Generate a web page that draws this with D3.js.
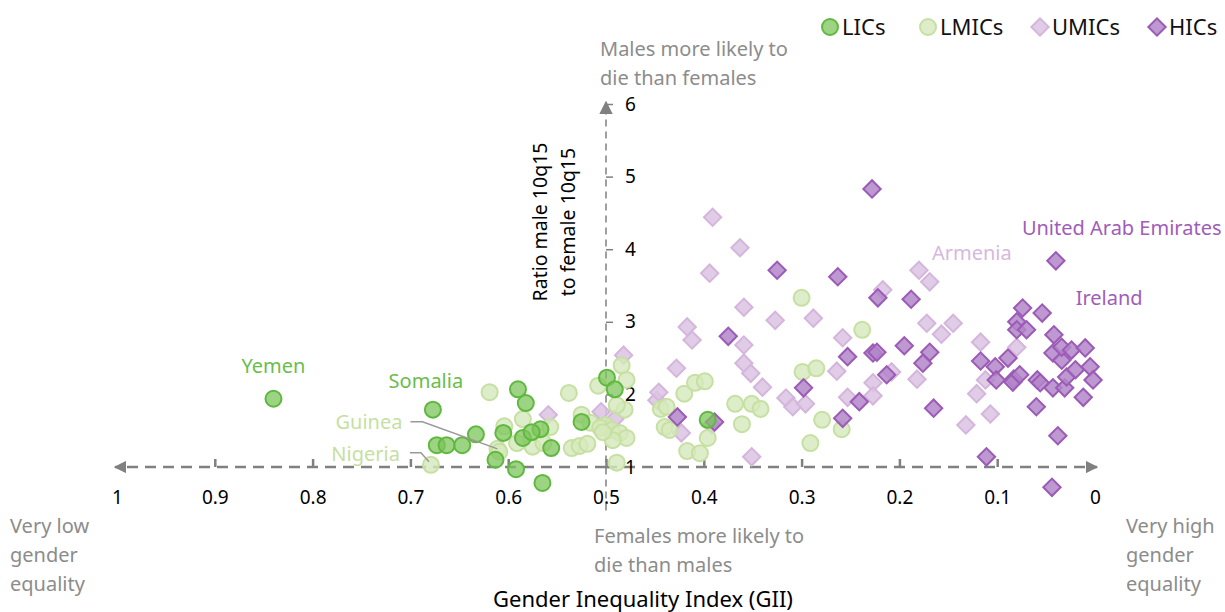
<!DOCTYPE html>
<html>
<head>
<meta charset="utf-8">
<script src="https://cdn.jsdelivr.net/npm/d3@7"></script>
<style>
  body { margin: 0; background: #fff; }
  text { font-family: "Noto Sans", sans-serif; }
</style>
</head>
<body>
<div id="chart"></div>
<script>
// [GII, ratio male 10q15 / female 10q15]
var lics = [
    [0.840, 1.94], [0.677, 1.79], [0.673, 1.30], [0.663, 1.30], [0.647, 1.30],
    [0.633, 1.45], [0.613, 1.10], [0.605, 1.47], [0.590, 2.07], [0.582, 1.88],
    [0.592, 0.97], [0.565, 0.78], [0.585, 1.40], [0.567, 1.52], [0.556, 1.26],
    [0.576, 1.48], [0.499, 2.23], [0.491, 2.07], [0.525, 1.62], [0.396, 1.65]
];
var lmics = [
    [0.679, 1.03], [0.611, 1.25], [0.619, 2.03], [0.604, 1.56], [0.585, 1.66],
    [0.591, 1.33], [0.575, 1.28], [0.564, 1.33], [0.557, 1.55], [0.609, 1.21],
    [0.538, 2.02], [0.535, 1.26], [0.527, 1.29], [0.519, 1.32], [0.525, 1.72],
    [0.516, 1.61], [0.508, 2.12], [0.484, 2.40], [0.479, 2.20], [0.489, 1.06],
    [0.501, 1.58], [0.494, 1.51], [0.486, 1.47], [0.479, 1.40], [0.493, 1.37],
    [0.481, 1.79], [0.489, 1.85], [0.506, 1.54], [0.503, 1.48],
    [0.300, 3.33], [0.238, 2.89], [0.299, 2.31], [0.285, 2.36], [0.420, 2.01],
    [0.409, 2.16], [0.399, 2.18], [0.444, 1.80], [0.438, 1.83], [0.440, 1.55],
    [0.435, 1.51], [0.396, 1.40], [0.417, 1.22], [0.404, 1.19], [0.368, 1.87],
    [0.351, 1.87], [0.342, 1.80], [0.361, 1.59], [0.279, 1.65], [0.291, 1.33],
    [0.259, 1.52]
];
var umics = [
    [0.482, 2.54], [0.559, 1.72], [0.505, 1.76], [0.491, 1.66], [0.448, 1.92],
    [0.446, 2.03], [0.391, 4.44], [0.363, 4.02], [0.394, 3.67], [0.359, 3.20],
    [0.327, 3.02], [0.288, 3.05], [0.417, 2.93], [0.412, 2.75], [0.359, 2.68],
    [0.258, 2.78], [0.428, 2.36], [0.359, 2.43], [0.352, 2.29], [0.264, 2.32],
    [0.340, 2.10], [0.316, 1.95], [0.309, 1.83], [0.296, 1.87], [0.253, 1.96],
    [0.423, 1.47], [0.392, 1.58], [0.351, 1.14], [0.227, 2.16], [0.227, 1.98],
    [0.180, 3.71], [0.169, 3.55], [0.217, 3.44], [0.172, 2.98], [0.157, 2.83],
    [0.145, 2.98], [0.117, 2.72], [0.080, 2.65], [0.208, 2.31], [0.182, 2.21],
    [0.112, 2.20], [0.121, 2.01], [0.107, 1.73], [0.132, 1.58]
];
var hics = [
    [0.228, 4.83], [0.325, 3.71], [0.263, 3.62], [0.222, 3.33], [0.375, 2.80],
    [0.253, 2.52], [0.227, 2.57], [0.223, 2.58], [0.298, 2.09], [0.241, 1.90],
    [0.258, 1.67], [0.427, 1.69], [0.389, 1.62], [0.188, 3.31], [0.195, 2.67],
    [0.169, 2.58], [0.176, 2.43], [0.213, 2.27], [0.165, 1.81], [0.117, 2.46],
    [0.102, 2.38], [0.101, 2.20], [0.089, 2.50], [0.083, 2.21], [0.080, 3.00],
    [0.074, 3.19], [0.054, 3.12], [0.080, 2.89], [0.070, 2.89], [0.042, 2.82],
    [0.043, 2.57], [0.034, 2.47], [0.034, 2.65], [0.024, 2.61], [0.010, 2.64],
    [0.059, 2.20], [0.056, 2.16], [0.043, 2.09], [0.031, 2.09], [0.029, 2.24],
    [0.020, 2.34], [0.005, 2.38], [0.002, 2.20], [0.012, 1.96], [0.060, 1.83],
    [0.038, 1.43], [0.044, 0.72], [0.111, 1.14], [0.040, 3.84], [0.084, 2.17],
    [0.077, 2.27]
];
var xTicks = [1, 0.9, 0.8, 0.7, 0.6, 0.5, 0.4, 0.3, 0.2, 0.1, 0];
var yTicks = [1, 2, 3, 4, 5, 6];
var legendNames = ["LICs", "LMICs", "UMICs", "HICs"];
// country labels: name, group, GII, ratio of the point
var labels = [
    ["Yemen", "LICs", 0.840, 1.94],
    ["Somalia", "LICs", 0.677, 1.79],
    ["Guinea", "LMICs", 0.611, 1.25],
    ["Nigeria", "LMICs", 0.679, 1.03],
    ["Armenia", "UMICs", 0.180, 3.71],
    ["United Arab Emirates", "HICs", 0.040, 3.84],
    ["Ireland", "HICs", 0.074, 3.19]
];

var width = 1225, height = 612;

var styles = {
    LICs:  {shape: "circle",  fill: "#7cc65a", stroke: "#5fb83f", op: 0.75, label: "#6abd4a"},
    LMICs: {shape: "circle",  fill: "#d6e9bb", stroke: "#c6e0a2", op: 0.8,  label: "#c6dfa0"},
    UMICs: {shape: "diamond", fill: "#dcc3e3", stroke: "#d4b6dc", op: 0.85, label: "#d7b8de"},
    HICs:  {shape: "diamond", fill: "#b386c9", stroke: "#9b5bb6", op: 0.85, label: "#a05cba"}
};

var svg = d3.select("#chart").append("svg")
    .attr("width", width)
    .attr("height", height);

var xScale = d3.scaleLinear().domain([1, 0]).range([117, 1095]);
var yScale = d3.scaleLinear().domain([1, 6]).range([467, 104]);

var grey = "#808080";

var defs = svg.append("defs");
defs.append("marker")
    .attr("id", "arrow")
    .attr("viewBox", "0 0 10 10")
    .attr("refX", 9).attr("refY", 5)
    .attr("markerWidth", 5).attr("markerHeight", 5)
    .attr("markerUnits", "strokeWidth")
    .attr("orient", "auto-start-reverse")
    .append("path")
    .attr("d", "M0,0L10,5L0,10z")
    .attr("fill", grey);
defs.append("marker")
    .attr("id", "arrowY")
    .attr("viewBox", "0 0 10 10")
    .attr("refX", 9).attr("refY", 5)
    .attr("markerWidth", 9).attr("markerHeight", 9)
    .attr("markerUnits", "strokeWidth")
    .attr("orient", "auto")
    .append("path")
    .attr("d", "M0,0L10,5L0,10z")
    .attr("fill", grey);

// x axis (dashed line with arrows, ticks pointing up)
var xAxis = d3.axisBottom(xScale)
    .tickValues(xTicks)
    .tickFormat(d => d3.format("~g")(d))
    .tickSize(-8)
    .tickPadding(24);

var gx = svg.append("g")
    .attr("transform", `translate(0,${yScale(1)})`)
    .call(xAxis);
gx.select(".domain").remove();
gx.selectAll(".tick line")
    .attr("stroke", grey).attr("stroke-width", 2.5)
    .filter(d => d === 1 || d === 0).remove();
gx.selectAll(".tick text")
    .attr("fill", "#000").attr("font-size", 19)
    .style("font-family", "'Noto Sans', sans-serif");

svg.append("line")
    .attr("x1", xScale(0.5)).attr("x2", xScale(1) - 2)
    .attr("y1", yScale(1)).attr("y2", yScale(1))
    .attr("stroke", grey).attr("stroke-width", 2.5)
    .attr("stroke-dasharray", "11,7")
    .attr("marker-end", "url(#arrow)");
svg.append("line")
    .attr("x1", xScale(0.5)).attr("x2", xScale(0) + 2)
    .attr("y1", yScale(1)).attr("y2", yScale(1))
    .attr("stroke", grey).attr("stroke-width", 2.5)
    .attr("stroke-dasharray", "11,7")
    .attr("marker-end", "url(#arrow)");

// y axis at GII = 0.5
var yAxis = d3.axisRight(yScale)
    .tickValues(yTicks)
    .tickFormat(d3.format("d"))
    .tickSize(7)
    .tickPadding(12);
var gy = svg.append("g")
    .attr("transform", `translate(${xScale(0.5)},0)`)
    .call(yAxis);
gy.select(".domain").remove();
gy.selectAll(".tick line").attr("stroke", grey).attr("stroke-width", 1.5);
gy.selectAll(".tick text")
    .attr("fill", "#000").attr("font-size", 19)
    .style("font-family", "'Noto Sans', sans-serif");

svg.append("line")
    .attr("x1", xScale(0.5)).attr("x2", xScale(0.5))
    .attr("y1", yScale(0.4)).attr("y2", yScale(6) - 2)
    .attr("stroke", grey).attr("stroke-width", 1.5)
    .attr("stroke-dasharray", "7,5")
    .attr("marker-end", "url(#arrowY)");

// points
var diamond = d3.symbol().type(d3.symbolSquare).size(150);

function drawGroup(data, name) {
    var s = styles[name];
    var g = svg.append("g").attr("class", name);
    if (s.shape === "circle") {
        g.selectAll("circle")
            .data(data)
            .enter()
            .append("circle")
            .attr("cx", d => xScale(d[0]))
            .attr("cy", d => yScale(d[1]))
            .attr("r", 8)
            .attr("fill", s.fill)
            .attr("fill-opacity", s.op)
            .attr("stroke", s.stroke)
            .attr("stroke-width", 2);
    } else {
        g.selectAll("path")
            .data(data)
            .enter()
            .append("path")
            .attr("d", diamond)
            .attr("transform", d => `translate(${xScale(d[0])},${yScale(d[1])}) rotate(45)`)
            .attr("fill", s.fill)
            .attr("fill-opacity", s.op)
            .attr("stroke", s.stroke)
            .attr("stroke-width", 2);
    }
}
drawGroup(umics, "UMICs");
drawGroup(lmics, "LMICs");
drawGroup(hics, "HICs");
drawGroup(lics, "LICs");

// country labels
var labelPos = {
    "Yemen":   {dx: 0,   dy: -26, anchor: "middle"},
    "Somalia": {dx: -7,  dy: -22, anchor: "middle"},
    "Guinea":  {dx: -95, dy: -20, anchor: "end"},
    "Nigeria": {dx: -31, dy: -4,  anchor: "end"},
    "Armenia": {dx: 13,  dy: -10, anchor: "start"},
    "United Arab Emirates": {dx: -34, dy: -26, anchor: "start"},
    "Ireland": {dx: 53,  dy: -3,  anchor: "start"}
};
labels.forEach(l => {
    var p = labelPos[l[0]];
    svg.append("text")
        .attr("x", xScale(l[2]) + p.dx)
        .attr("y", yScale(l[3]) + p.dy)
        .attr("text-anchor", p.anchor)
        .attr("font-size", 20)
        .attr("fill", styles[l[1]].label)
        .text(l[0]);
});

// leader lines
var guinea = labels[2], nigeria = labels[3];
svg.append("polyline")
    .attr("points", [
        [xScale(guinea[2]) - 87, yScale(guinea[3]) - 27],
        [xScale(guinea[2]) - 75, yScale(guinea[3]) - 27],
        [xScale(guinea[2]), yScale(guinea[3])]
    ].join(" "))
    .attr("fill", "none").attr("stroke", "#999").attr("stroke-width", 1.5);
svg.append("polyline")
    .attr("points", [
        [xScale(nigeria[2]) - 21, yScale(nigeria[3]) - 12],
        [xScale(nigeria[2]) - 10, yScale(nigeria[3]) - 12],
        [xScale(nigeria[2]) - 2, yScale(nigeria[3]) - 3]
    ].join(" "))
    .attr("fill", "none").attr("stroke", "#999").attr("stroke-width", 1.5);

// annotations
function multiLine(lines, x, y, step, color, size, anchor) {
    lines.forEach((t, i) => {
        svg.append("text")
            .attr("x", x).attr("y", y + i * step)
            .attr("text-anchor", anchor || "start")
            .attr("font-size", size)
            .attr("fill", color)
            .text(t);
    });
}
multiLine(["Males more likely to", "die than females"], 600, 56, 29, "#8c8c8c", 20);
multiLine(["Females more likely to", "die than males"], 594, 543, 29, "#8c8c8c", 20);
multiLine(["Very low", "gender", "equality"], 10, 533, 29, "#8c8c8c", 20);
multiLine(["Very high", "gender", "equality"], 1126, 533, 29, "#8c8c8c", 20);

["Ratio male 10q15", "to female 10q15"].forEach((t, i) => {
    svg.append("text")
        .attr("transform", `translate(${547 + i * 28},222) rotate(-90)`)
        .attr("text-anchor", "middle")
        .attr("font-size", 19.5)
        .attr("fill", "#000")
        .text(t);
});

svg.append("text")
    .attr("x", 643).attr("y", 607)
    .attr("text-anchor", "middle")
    .attr("font-size", 22)
    .attr("fill", "#000")
    .text("Gender Inequality Index (GII)");

// legend
var legendX = [830, 928, 1040, 1157];
legendNames.forEach((n, i) => {
    var s = styles[n];
    var lg = svg.append("g").attr("transform", `translate(${legendX[i]},27)`);
    if (s.shape === "circle") {
        lg.append("circle").attr("r", 8);
    } else {
        lg.append("path").attr("d", diamond).attr("transform", "rotate(45)");
    }
    lg.select("*")
        .attr("fill", s.fill).attr("fill-opacity", s.op)
        .attr("stroke", s.stroke).attr("stroke-width", 2);
    lg.append("text")
        .attr("x", 12).attr("y", 8)
        .attr("font-size", 22)
        .attr("fill", "#111")
        .text(n);
});
</script>
</body>
</html>
